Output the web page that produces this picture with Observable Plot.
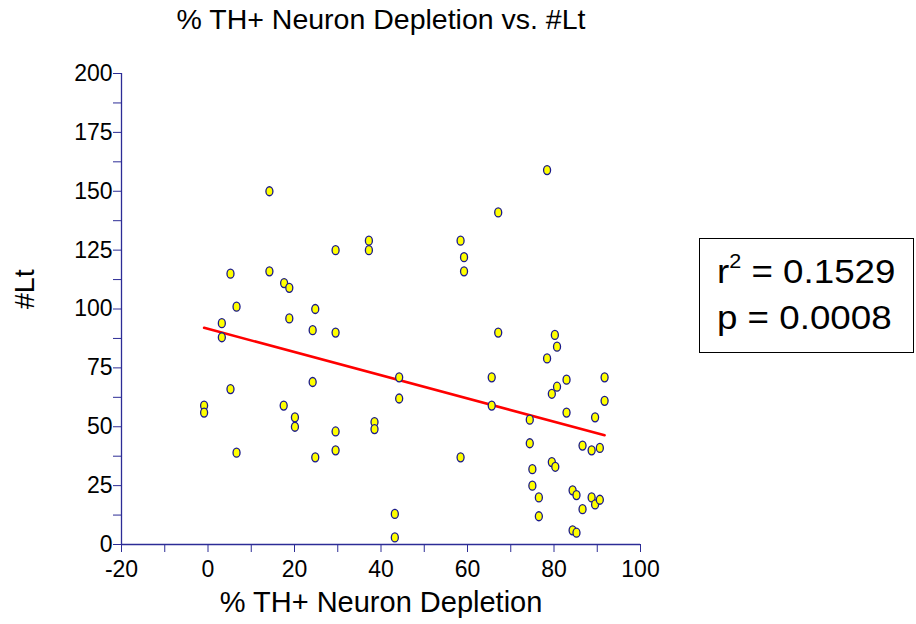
<!DOCTYPE html>
<html>
<head>
<meta charset="utf-8">
<script src="https://cdn.jsdelivr.net/npm/d3@7"></script>
<script src="https://cdn.jsdelivr.net/npm/@observablehq/plot@0.6"></script>
<style>
  body { margin: 0; background: #fff; font-family: "Liberation Sans", Arial, sans-serif; }
  #wrap { position: relative; width: 916px; height: 624px; }
  #stats { position: absolute; left: 699px; top: 238px; width: 213px; height: 113px;
           border: 1.5px solid #000; box-sizing: content-box; color: #000;
           font-family: "Liberation Sans", Arial, sans-serif; font-size: 34px; }
  #stats .ln { position: absolute; left: 17px; white-space: nowrap; line-height: 1;
               transform: scaleX(1.08); transform-origin: left center; }
  #stats sup { font-size: 20px; position: relative; top: -3px; vertical-align: top; }
</style>
</head>
<body>
<div id="wrap"></div>
<script>
// Data
const depletion = [-0.9,-0.9,3.2,3.2,5.2,5.2,6.6,6.6,14.2,14.2,
  17.6,18.8,18.8,17.5,20.1,20.1,24.2,24.2,24.8,24.8,
  29.5,29.5,29.5,29.5,37.2,37.2,38.5,38.5,43.2,43.2,
  44.2,44.2,58.4,59.2,59.2,58.4,65.6,65.6,67.1,67.1,
  78.4,78.4,80.2,80.7,80.7,79.5,82.9,82.9,91.7,91.7,
  89.5,74.4,74.4,86.6,88.7,90.6,79.5,80.3,75,75,
  76.5,76.5,84.3,85.2,86.6,88.7,89.5,90.6,84.3,85.2];
const lt = [59,56,94,88,115,66,101,39,150,116,
  111,109,96,59,54,50,91,69,100,37,
  125,90,48,40,129,125,52,49,13,3,
  71,62,129,122,116,37,71,59,141,90,
  159,79,89,84,67,64,70,56,71,61,
  54,53,43,42,40,41,35,33,32,25,
  20,12,23,21,15,20,17,19,6,5];
const fitIntercept = 91.56;
const fitSlope = -0.4925;
const xTicks = [-20,-10,0,10,20,30,40,50,60,70,80,90,100];
const yTicks = [0,12.5,25,37.5,50,62.5,75,87.5,100,112.5,125,137.5,150,162.5,175,187.5,200];
const titleText = "% TH+ Neuron Depletion vs. #Lt";
const xLabel = "% TH+ Neuron Depletion";
const yLabel = "#Lt";
const r2Text = "0.1529";
const pText = "0.0008";

const points = depletion.map((d, i) => ({x: d, y: lt[i]}));
const fitLine = d3.extent(depletion).map(x => ({x, y: fitIntercept + fitSlope * x}));

const navy = "#2c2c96";
const ellipse = {
  draw(ctx, size) {
    const rx = 3.5, ry = 4.5, k = 0.5523;
    ctx.moveTo(rx, 0);
    ctx.bezierCurveTo(rx, k*ry, k*rx, ry, 0, ry);
    ctx.bezierCurveTo(-k*rx, ry, -rx, k*ry, -rx, 0);
    ctx.bezierCurveTo(-rx, -k*ry, -k*rx, -ry, 0, -ry);
    ctx.bezierCurveTo(k*rx, -ry, rx, -k*ry, rx, 0);
    ctx.closePath();
  }
};

const chart = Plot.plot({
  width: 916,
  height: 624,
  marginLeft: 121,
  marginRight: 276,
  marginTop: 73,
  marginBottom: 80,
  style: {fontFamily: "'Liberation Sans', Arial, sans-serif", background: "#fff", color: "#000"},
  x: {domain: [-20, 100]},
  y: {domain: [0, 200]},
  marks: [
    Plot.axisX(xTicks, {tickSize: 8, tickPadding: 8, stroke: navy, fill: "#000", fontSize: 23,
      tickFormat: d => d % 20 === 0 ? String(d) : "", label: null}),
    Plot.axisY(yTicks, {tickSize: 8, tickPadding: 1, stroke: navy, fill: "#000", fontSize: 23,
      tickFormat: d => d % 25 === 0 ? String(d) : "", label: null}),
    Plot.ruleY([0], {stroke: navy, strokeWidth: 1.3}),
    Plot.ruleX([-20], {stroke: navy, strokeWidth: 1.3}),
    Plot.line(fitLine, {x: "x", y: "y", stroke: "#ff0000", strokeWidth: 2.6}),
    Plot.dot(points, {x: "x", y: "y", symbol: ellipse, r: 4, fill: "#ffff00", stroke: "#1a1a8a", strokeWidth: 1.3}),
    Plot.text([titleText], {frameAnchor: "top", lineAnchor: "middle", dy: -53.5, fontSize: 28.5, fill: "#000"}),
    Plot.text([xLabel], {frameAnchor: "bottom", lineAnchor: "middle", dy: 58.2, fontSize: 29, fill: "#000"}),
    Plot.text([yLabel], {frameAnchor: "left", lineAnchor: "middle", dx: -97, rotate: -90, fontSize: 28.5, fill: "#000"})
  ]
});

const wrap = document.getElementById("wrap");
wrap.appendChild(chart);

const box = document.createElement("div");
box.id = "stats";
box.innerHTML = `<div class="ln" style="top:15px">r<sup>2</sup> = ${r2Text}</div>` +
                `<div class="ln" style="top:61px">p = ${pText}</div>`;
wrap.appendChild(box);
</script>
</body>
</html>
